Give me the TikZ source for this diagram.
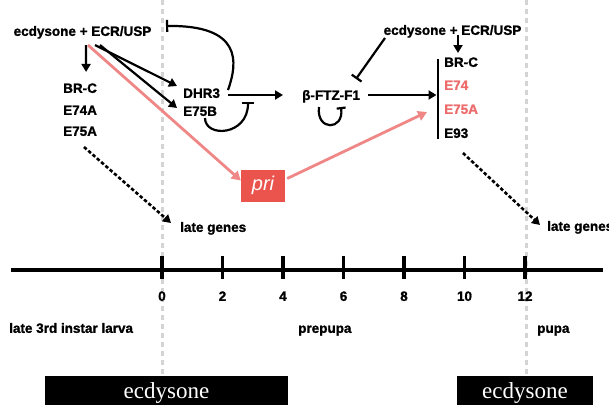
\documentclass[tikz,border=0pt]{standalone}
\usepackage{fontspec}
\setmainfont{Liberation Sans}[BoldFeatures={FakeBold=1.3}]
\newfontfamily\boxfont{Liberation Serif}
\usetikzlibrary{arrows.meta}

\definecolor{pinkline}{RGB}{240,135,135}
\definecolor{prired}{RGB}{234,84,76}
\definecolor{pinktext}{RGB}{236,108,108}
\definecolor{stagegray}{RGB}{212,212,212}

\tikzset{
  lbl/.style={font=\bfseries\fontsize{13.5}{15}\selectfont, inner sep=0pt,
              text height=9.7pt, text depth=0pt},
  act/.style={line width=2.2pt, -{Triangle[length=8pt,width=9pt]}},
  inh/.style={line width=2.2pt, -{Bar[width=12pt,line width=2.2pt]}},
  pinkact/.style={pinkline, line width=2.8pt, -{Triangle[length=9pt,width=10pt]}},
  dotact/.style={line width=2.6pt, dash pattern=on 3.5pt off 2.2pt,
                 -{Triangle[length=8pt,width=9pt]}},
  stageline/.style={stagegray, line width=3.6pt, dash pattern=on 5pt off 4pt},
  axisline/.style={line width=3.5pt},
  pribox/.style={fill=prired, minimum width=44pt, minimum height=32pt,
                 inner sep=0pt, text=white,
                 font=\itshape\fontsize{20}{22}\selectfont},
  ecbox/.style={fill=black, inner sep=0pt, minimum height=29pt},
  ectext/.style={text=white, inner sep=0pt, font=\boxfont\fontsize{23}{26}\selectfont},
}

\begin{document}
\begin{tikzpicture}[x=1pt,y=-1pt]
\useasboundingbox (0,0) rectangle (609,405);

% ecdysone pulse markers (start of prepupa and of pupa)
\draw[stageline] (162.5,0) -- (162.5,376);
\draw[stageline] (526.5,0) -- (526.5,376);

% first ecdysone response
\node[lbl] (ec1) at (82.5,31) {ecdysone + ECR/USP};
\node[lbl,anchor=west] (brc1) at (63,88) {BR-C};
\node[lbl,anchor=west] (e74a) at (63,110) {E74A};
\node[lbl,anchor=west] (e75a1) at (63,131) {E75A};
\node[lbl,anchor=west] (dhr3) at (183,93) {DHR3};
\node[lbl,anchor=west] (e75b) at (183,111) {E75B};
\node[lbl,anchor=west] (ftz) at (302,95) {β-FTZ-F1};

% second ecdysone response
\node[lbl] (ec2) at (452.5,30) {ecdysone + ECR/USP};
\node[lbl,anchor=west] (brc2) at (444,62) {BR-C};
\node[lbl,anchor=west,text=pinktext] (e74) at (444,85) {E74};
\node[lbl,anchor=west,text=pinktext] (e75a2) at (444,109) {E75A};
\node[lbl,anchor=west] (e93) at (444,133) {E93};
\node[fill=black, inner sep=0pt, minimum width=2.6pt, minimum height=80pt] (blk) at (438,99) {};

\node[pribox] (pri) at (263,185.5) {pri};

\node[lbl,anchor=west] (late1) at (180,227) {late genes};
\node[lbl,anchor=west] (late2) at (547,226) {late genes};

% regulatory connections
\draw[act] ([shift={(3.5,9)}]ec1.south) -- ([shift={(6,-11)}]brc1.north);
\draw[act] ([shift={(12.5,9)}]ec1.south) -- ([shift={(-6,-7)}]dhr3.west);
\draw[act] ([shift={(17.5,9)}]ec1.south) -- ([shift={(-6,-3)}]e75b.west);
\draw[pinkact] ([shift={(5.5,9)}]ec1.south) -- ([shift={(0,-5)}]pri.west);

\draw[inh] ([shift={(45,-3)}]dhr3.west) .. controls (238,62) and (242,25) .. ([shift={(83.5,-5)}]ec1.center);
\draw[act] ([shift={(45,2)}]dhr3.west) -- ([shift={(-19,0)}]ftz.west);
\draw[inh] ([shift={(22,7)}]e75b.west) .. controls (205,138) and (248,136) .. ([shift={(65,9)}]dhr3.west);

\draw[line width=2.2pt, -{Bar[width=9pt,line width=2.2pt]}]
  ([shift={(17,12)}]ftz.west) .. controls (316,131) and (344,131) .. ([shift={(39,12)}]ftz.west);
\draw[inh] ([shift={(-67.5,8)}]ec2.center) -- ([shift={(54,-16)}]ftz.west);
\draw[act] ([shift={(5.5,5)}]ec2.center) -- ([shift={(14,-9)}]brc2.west);
\draw[act, shorten <=8pt] (ftz.east) -- (ftz.east -| blk.west);

\draw[pinkact] ([shift={(2,-7)}]pri.east) -- ([shift={(-17,3)}]e75a2.west);

\draw[dotact] ([shift={(21,16)}]e75a1.west) -- ([shift={(-9,-4)}]late1.west);
\draw[dotact] ([shift={(19,20)}]e93.west) -- ([shift={(-7,-1)}]late2.west);

% time axis (hours after puparium formation)
\draw[axisline] (11,270) -- (603,270);
\foreach \i in {0,...,6} {
  \pgfmathsetmacro{\xx}{162+60.5*\i}
  \pgfmathtruncatemacro{\hh}{2*\i}
  \draw[axisline] (\xx,256) -- (\xx,279);
  \node[lbl] (t\i) at (\xx,296) {\hh};
}

% developmental stages
\node[lbl,anchor=west] (larva) at (9,328) {late 3rd instar larva};
\node[lbl,anchor=west] (prepupa) at (298,328) {prepupa};
\node[lbl,anchor=west] (pupa) at (537,328) {pupa};

% ecdysone titer bars
\node[ecbox, minimum width=243pt] (pulse1) at (166.5,390.5) {};
\node[ecbox, minimum width=136pt] (pulse2) at (525,390.5) {};
\node[ectext, anchor=base] (pulse1t) at ([yshift=-7.5pt]pulse1.center) {ecdysone};
\node[ectext, anchor=base] (pulse2t) at ([yshift=-7.5pt]pulse2.center) {ecdysone};
\end{tikzpicture}
\end{document}
